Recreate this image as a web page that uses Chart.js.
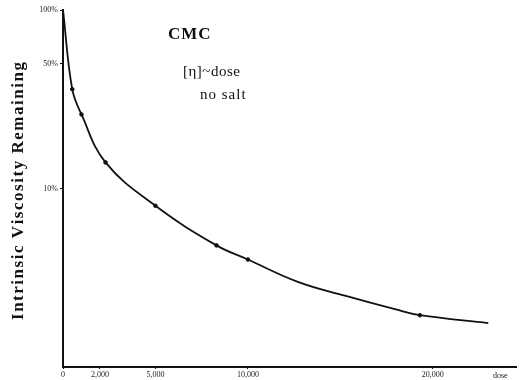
<!DOCTYPE html>
<html>
<head>
<meta charset="utf-8">
<script src="https://cdn.jsdelivr.net/npm/chart.js@4"></script>
<style>
  html, body { margin: 0; padding: 0; background: #fff; }
  #wrap { width: 521px; height: 380px; }
</style>
</head>
<body>
<div id="wrap"><canvas id="chart"></canvas></div>
<script>
// values (dose vs % viscosity remaining)
const doses = [0, 500, 1000, 2300, 5000, 8300, 10000, 12700, 15300, 18000, 19300, 23000];
const remaining = [100, 36, 26, 14, 8, 4.8, 4, 3.0, 2.5, 2.1, 1.95, 1.76];
const markDoses = [500, 1000, 2300, 5000, 8300, 10000, 19300];
const markValues = [36, 26, 14, 8, 4.8, 4, 1.95];
const xTicks = [0, 2000, 5000, 10000, 20000];
const xTickLabels = ['0', '2,000', '5,000', '10,000', '20,000'];
const yTicks = [10, 50, 100];
const yTickLabels = ['10%', '50%', '100%'];

const serif = '"Liberation Serif", "DejaVu Serif", serif';

function spaced(ctx, text, x, y, spacing){
  let cx = x;
  for (const ch of text){
    ctx.fillText(ch, cx, y);
    cx += ctx.measureText(ch).width + spacing;
  }
}

const textPlugin = {
  id: 'texts',
  beforeDraw(chart){
    const ctx = chart.ctx;
    ctx.save();
    ctx.fillStyle = '#fff';
    ctx.fillRect(0, 0, chart.width, chart.height);
    ctx.restore();
  },
  afterDraw(chart){
    const ctx = chart.ctx;
    ctx.save();
    ctx.fillStyle = '#111';
    ctx.textBaseline = 'alphabetic';
    ctx.textAlign = 'left';

    // y axis title, letter spaced to fit
    const title = 'Intrinsic Viscosity Remaining';
    ctx.font = 'bold 17px ' + serif;
    let w = 0;
    for (const ch of title) w += ctx.measureText(ch).width;
    const target = 258;
    const sp = (target - w) / (title.length - 1);
    ctx.translate(23, 191 + target / 2);
    ctx.rotate(-Math.PI / 2);
    spaced(ctx, title, 0, 0, sp);
    ctx.restore();

    ctx.save();
    ctx.fillStyle = '#111';
    ctx.font = 'bold 17px ' + serif;
    spaced(ctx, 'CMC', 168, 39, 1);
    ctx.font = '15px ' + serif;
    spaced(ctx, '[\u03b7]~dose', 183, 76, 0.5);
    spaced(ctx, 'no salt', 200, 99, 1);
    ctx.font = '8px ' + serif;
    ctx.fillText('dose', 493, 378);
    ctx.restore();
  }
};

new Chart(document.getElementById('chart'), {
  type: 'scatter',
  data: {
    datasets: [
      {
        data: doses.map((d, i) => ({x: d, y: remaining[i]})),
        showLine: true,
        borderColor: '#111',
        borderWidth: 1.8,
        pointRadius: 0,
        tension: 0.4
      },
      {
        data: markDoses.map((d, i) => ({x: d, y: markValues[i]})),
        showLine: false,
        backgroundColor: '#111',
        borderColor: '#111',
        pointRadius: 1.8
      }
    ]
  },
  options: {
    responsive: true,
    maintainAspectRatio: false,
    animation: false,
    events: [],
    layout: { padding: { top: 10, right: 2, left: 0, bottom: 0 } },
    plugins: { legend: { display: false }, tooltip: { enabled: false } },
    scales: {
      x: {
        type: 'linear',
        min: 0,
        max: 24500,
        afterBuildTicks: s => { s.ticks = xTicks.map(v => ({value: v})); },
        afterFit: s => { s.height = 13; },
        border: { display: true, color: '#111', width: 2 },
        grid: { display: true, drawOnChartArea: false, drawTicks: true, tickLength: 2, color: '#111' },
        ticks: {
          autoSkip: false, maxRotation: 0, padding: 1, color: '#222',
          font: { family: serif, size: 8 },
          callback: v => xTickLabels[xTicks.indexOf(v)]
        }
      },
      y: {
        type: 'logarithmic',
        min: 1,
        max: 100,
        afterBuildTicks: s => { s.ticks = yTicks.map(v => ({value: v})); },
        afterFit: s => { s.width = 63; },
        border: { display: true, color: '#111', width: 2 },
        grid: { display: true, drawOnChartArea: false, drawTicks: true, tickLength: 3, color: '#111' },
        ticks: {
          padding: 2, color: '#222',
          font: { family: serif, size: 8 },
          callback: v => yTickLabels[yTicks.indexOf(v)]
        }
      }
    }
  },
  plugins: [textPlugin]
});
</script>
</body>
</html>
